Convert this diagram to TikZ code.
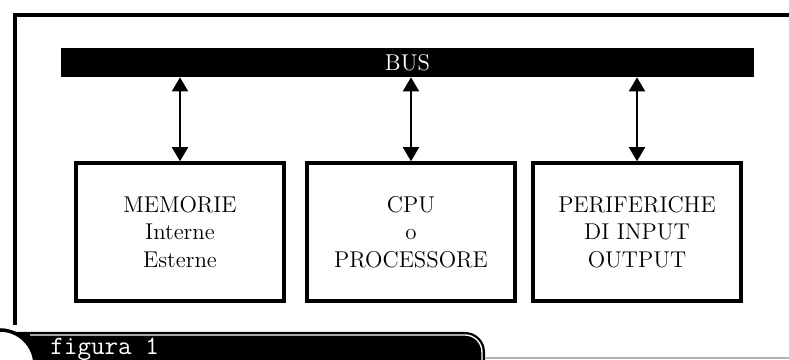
\documentclass[tikz,border=0pt]{standalone}
\usetikzlibrary{arrows.meta}

\tikzset{
  unitbox/.style={draw=black, line width=2pt, fill=white,
                  minimum width=4.15cm, minimum height=2.76cm,
                  align=center, font=\fontsize{13}{15.5}\selectfont},
  bus arrow/.style={{Triangle[length=0.28cm,width=0.32cm]}-{Triangle[length=0.28cm,width=0.32cm]},
                    line width=1.1pt, black},
}
\colorlet{framecol}{black}
\colorlet{rulecol}{gray!60}

\begin{document}
\begin{tikzpicture}
        % 1 px of the page = 0.02 cm, page = 15.78 x 7.20 cm
        % bus bar: y 5.66 .. 6.24,  boxes: y 1.18 .. 3.94
        % box x-centres = 3.60, 8.22, 12.74
        \useasboundingbox (0,0) rectangle (15.78,7.20);

        % ---- frame (top and left rule) ----
        \draw[framecol, line width=2.3pt] (0.30,0.70) -- (0.30,6.90) -- (15.90,6.90);

        % ---- BUS bar ----
        \node[fill=black, minimum width=13.86cm, minimum height=0.58cm, inner sep=0,
              text=white, font=\fontsize{13}{15}\selectfont] (bus) at (8.15,5.95) {BUS};

        % ---- units ----
        \node[unitbox] (mem) at (3.60,2.56) {MEMORIE\\Interne\\Esterne};
        \node[unitbox] (cpu) at (8.22,2.56) {CPU\\o\\PROCESSORE};
        \node[unitbox] (per) at (12.74,2.56) {PERIFERICHE\\DI INPUT\\OUTPUT};

        % ---- bus connections ----
        \foreach \u in {mem,cpu,per} {
          \draw[bus arrow] (\u.north |- bus.south) -- (\u.north);
        }

        % ---- caption tab (bottom left) ----
        \fill[black] (-0.10,-0.10) -- (-0.10,0.56) -- (9.30,0.56)
          arc[start angle=90, end angle=0, radius=0.40] -- (9.70,-0.10) -- cycle;
        \draw[white, line width=0.8pt] (0.60,0.50) -- (9.30,0.50)
          arc[start angle=90, end angle=0, radius=0.34] -- (9.64,-0.10);
        \draw[black, line width=2pt, fill=white] (0,-0.10) circle[radius=0.70];
        \node[anchor=base west, inner sep=0, text=white,
              font=\ttfamily\fontsize{15}{15}\selectfont] (cap) at (1.00,0.11) {figura 1};
        \draw[rulecol, line width=0.6pt] (9.70,0.04) -- (15.78,0.04);
      \end{tikzpicture}
\end{document}
